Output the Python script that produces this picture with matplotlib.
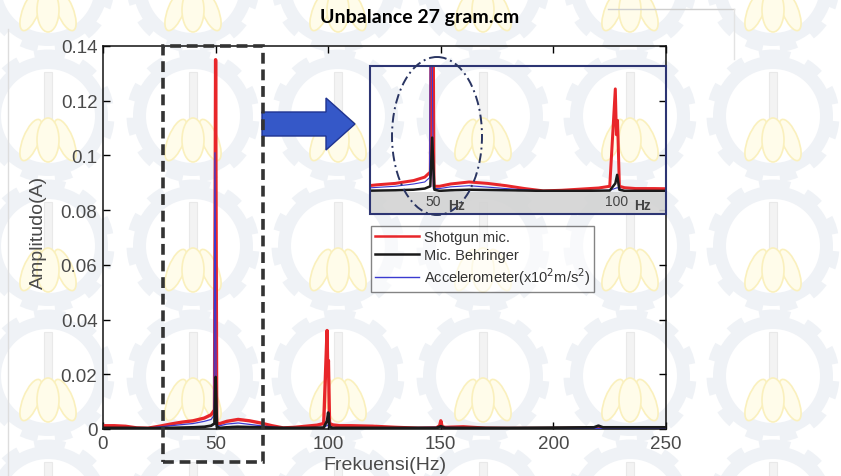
import numpy as np
import matplotlib
matplotlib.use('Agg')
import matplotlib.pyplot as plt
from matplotlib.patches import Rectangle, Ellipse, Wedge, Circle, FancyArrow
from matplotlib.lines import Line2D

W, H = 841, 477

# spektrum (frekuensi Hz, amplitudo A) tiap sensor
shotgun_f = [0, 5, 10, 15, 20, 25, 30, 35, 40, 45, 48, 49.5, 50, 50.5, 52, 55, 60, 65, 70, 75,
             80, 85, 90, 95, 98, 99.5, 99.8, 100.1, 100.6, 102, 105, 110, 120, 130, 140, 148,
             149.5, 150, 150.6, 152, 160, 170, 180, 200, 220, 230, 240, 250]
shotgun_a = [0.0012, 0.0012, 0.001, 0.0004, 0.0003, 0.001, 0.0018, 0.0025, 0.003, 0.004, 0.0052,
             0.007, 0.135, 0.002, 0.002, 0.0028, 0.0035, 0.003, 0.0022, 0.0012, 0.0004, 0.0006,
             0.001, 0.0014, 0.002, 0.036, 0.02, 0.025, 0.002, 0.0015, 0.0012, 0.0012, 0.001,
             0.0006, 0.0003, 0.0004, 0.0012, 0.003, 0.0008, 0.0006, 0.0008, 0.0003, 0.0002,
             0.0002, 0.0004, 0.0003, 0.0003, 0.0004]

accel_f = [0, 10, 20, 30, 40, 45, 48, 49.3, 49.7, 50.3, 52, 55, 60, 70, 80, 90, 98, 100, 102,
           110, 150, 200, 250]
accel_a = [0.0005, 0.0005, 0.0003, 0.0012, 0.002, 0.0028, 0.0035, 0.005, 0.101, 0.0012, 0.0012,
           0.0018, 0.0022, 0.0012, 0.0003, 0.0004, 0.0006, 0.0015, 0.0004, 0.0003, 0.0006,
           0.0002, 0.0002]

behringer_f = [0, 10, 20, 30, 40, 45, 48, 49.5, 50, 50.6, 52, 55, 60, 70, 80, 90, 98, 99.5, 100,
               100.6, 102, 110, 148, 150, 152, 180, 200, 218, 220, 222, 250]
behringer_a = [0.0004, 0.0004, 0.0003, 0.0004, 0.0006, 0.0008, 0.0012, 0.002, 0.019, 0.0008,
               0.0004, 0.0006, 0.0008, 0.0006, 0.0004, 0.0004, 0.0005, 0.003, 0.006, 0.0008,
               0.0004, 0.0004, 0.0004, 0.001, 0.0004, 0.0004, 0.0005, 0.0006, 0.0012, 0.0006,
               0.0006]

x_ticks = [0, 50, 100, 150, 200, 250]
y_ticks = [0, 0.02, 0.04, 0.06, 0.08, 0.1, 0.12, 0.14]
y_ticklabels = ['0', '0.02', '0.04', '0.06', '0.08', '0.1', '0.12', '0.14']


def fig_box(x0, y0, x1, y1):
    # kotak piksel (kiri, atas, kanan, bawah) -> koordinat figure
    return [x0 / W, 1 - y1 / H, (x1 - x0) / W, (y1 - y0) / H]


plt.rcParams['font.family'] = ['Liberation Sans', 'DejaVu Sans']
fig = plt.figure(figsize=(W / 100, H / 100), dpi=100)
fig.patch.set_facecolor('white')

# latar: logo watermark
bg = fig.add_axes([0, 0, 1, 1], zorder=-5)
bg.set_xlim(0, W)
bg.set_ylim(H, 0)
bg.axis('off')
for cy in [-13, 117, 247, 377, 507]:
    for cx in [48, 193, 338, 483, 630, 773]:
        bg.add_patch(Wedge((cx, cy), 60, 0, 360, width=13, color='#eff2f6', lw=0))
        bg.add_patch(Circle((cx, cy), 63, fill=False, ec='#eff2f6', lw=5, ls=(0, (2.5, 2.5))))
        bg.add_patch(Rectangle((cx - 4, cy - 44), 8, 66, fc='#f3f3f3', ec='#e9e9e9', lw=0.8))
        for dx, ang, w in [(-17, 22, 16), (17, -22, 16), (0, 0, 22)]:
            bg.add_patch(Ellipse((cx + dx, cy + 24), w, 44, angle=ang,
                                 fc='#fffcea', ec='#faf0bd', lw=1.2))

lines_style = [
    (shotgun_f, shotgun_a, '#e8262a', 2.4, 2),
    (accel_f, accel_a, '#3a3ad0', 0.9, 3),
    (behringer_f, behringer_a, '#1a1a1a', 2.0, 4),
]

ax = fig.add_axes(fig_box(103, 47, 666, 430))
ax.patch.set_alpha(0)
for f, a, c, lw, z in lines_style:
    ax.plot(f, a, color=c, lw=lw, zorder=z)
ax.set_xlim(0, 250)
ax.set_ylim(0, 0.14)
ax.set_xticks(x_ticks)
ax.set_yticks(y_ticks)
ax.set_yticklabels(y_ticklabels)
ax.tick_params(direction='in', top=True, right=True, length=5, width=1,
               labelsize=13.5, labelcolor='#4a4a4a', pad=4)
for s in ax.spines.values():
    s.set_linewidth(1.1)
    s.set_color('#111111')

fig.text(38 / W, 1 - 232 / H, 'Amplitudo(A)', rotation=90, ha='center', va='center',
         fontsize=14, color='#4a4a4a')
fig.text(385 / W, 1 - 466 / H, 'Frekuensi(Hz)', ha='center', va='center',
         fontsize=14, color='#4a4a4a')
fig.text(420 / W, 1 - 18 / H, 'Unbalance 27 gram.cm', ha='center', va='center',
         fontsize=14, fontweight='bold', family=['Lato', 'DejaVu Sans'], color='black')

# garis bingkai tipis
fig.add_artist(Line2D([608 / W, 734 / W], [1 - 10 / H, 1 - 10 / H], color='#cfcfcf', lw=1))
fig.add_artist(Line2D([734 / W, 734 / W], [1 - 10 / H, 1 - 60 / H], color='#e3e3e3', lw=1))
fig.add_artist(Line2D([8 / W, 8 / W], [1 - 30 / H, 0], color='#dddddd', lw=1))

# kotak putus-putus di sekitar 50 Hz
fig.add_artist(Rectangle((163 / W, 1 - 463 / H), 100 / W, 416 / H, fill=False,
                         ec='#333333', lw=2.6, ls=(0, (3, 1.6)), zorder=6))

# panah biru
bg2 = fig.add_axes([0, 0, 1, 1], zorder=5)
bg2.set_xlim(0, W)
bg2.set_ylim(H, 0)
bg2.axis('off')
bg2.add_patch(FancyArrow(262, 125, 64, 0, width=24, head_width=52, head_length=29,
                         length_includes_head=False, fc='#3558c8', ec='#1f3390', lw=1))

# inset zoom
ins = fig.add_axes(fig_box(370, 67, 666, 193), zorder=4)
ins.patch.set_alpha(0)
for f, a, c, lw, z in lines_style:
    ins.plot(f, a, color=c, lw=lw * 0.9, zorder=z)
ins.set_xlim(33.2, 113.2)
ins.set_ylim(0, 0.044)
ins.set_xticks([])
ins.set_yticks([])
for s in ins.spines.values():
    s.set_visible(False)

bg2.add_patch(Rectangle((370, 193), 296, 22, fc='#d3d3d3', ec='none', alpha=0.9))
bg2.add_patch(Rectangle((370, 67), 296, 148, fill=False, ec='#2d3573', lw=1.5))
bg2.text(433, 202, '50', ha='center', va='center', fontsize=10, color='#444444')
bg2.text(457, 206, 'Hz', ha='center', va='center', fontsize=10, fontweight='bold', color='#444444')
bg2.text(617, 202, '100', ha='center', va='center', fontsize=10, color='#444444')
bg2.text(643, 206, 'Hz', ha='center', va='center', fontsize=10, fontweight='bold', color='#444444')
bg2.add_patch(Ellipse((437, 137), 90, 158, fill=False, ec='#2a3562', lw=1.4,
                      ls=(0, (5, 2, 1, 2))))

# legenda
handles = [Line2D([], [], color='#e8262a', lw=1.8),
           Line2D([], [], color='#1a1a1a', lw=1.8),
           Line2D([], [], color='#3a3ad0', lw=1.0)]
labels = ['Shotgun mic.', 'Mic. Behringer', 'Accelerometer(x10$^2$m/s$^2$)']
leg = ax.legend(handles, labels, loc='upper left', bbox_to_anchor=(371 / W, 1 - 227 / H),
                bbox_transform=fig.transFigure, borderaxespad=0, fontsize=10.5,
                frameon=True, fancybox=False, handlelength=3.0, handletextpad=0.3,
                borderpad=0.3, labelspacing=0.25, framealpha=0.6)
leg.get_frame().set_edgecolor('#333333')
leg.get_frame().set_linewidth(1)
for t in leg.get_texts():
    t.set_color('#333333')
leg.set_zorder(10)

fig.savefig('out.png', dpi=100)
